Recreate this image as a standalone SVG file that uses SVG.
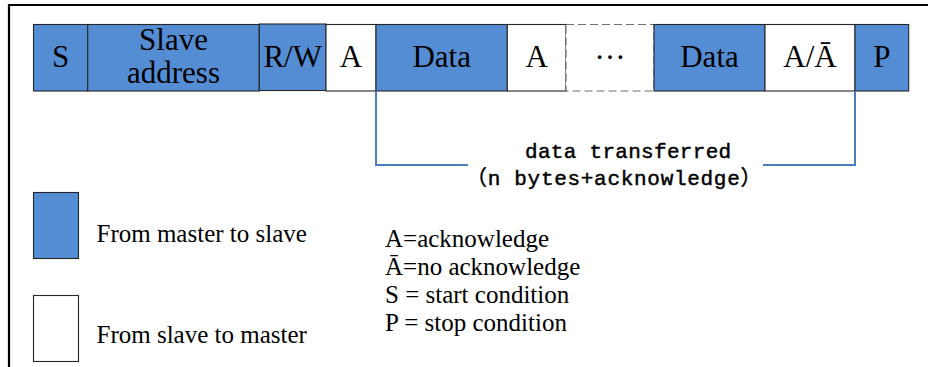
<svg xmlns="http://www.w3.org/2000/svg" width="928" height="367" viewBox="0 0 928 367">
<style>
.m{fill:#548dd4;stroke:#262626;stroke-width:1.1}
.s{fill:#ffffff;stroke:#262626;stroke-width:1.1}
.d{fill:#ffffff;stroke:#6f6f6f;stroke-width:1.2;stroke-dasharray:8 4}
.t{font-family:"Liberation Serif","Times New Roman",serif;font-size:31px;fill:#000;text-anchor:middle}
.l{font-family:"Liberation Serif","Times New Roman",serif;font-size:25px;fill:#000}
.mono{font-family:"Liberation Mono","Noto Sans CJK SC",monospace;font-size:21px;fill:#000;stroke:#000;stroke-width:0.45}
.br{fill:none;stroke:#4a7ebb;stroke-width:2}
</style>
<rect width="928" height="367" fill="#ffffff"/>
<path d="M9,367 V5 H928" fill="none" stroke="#000" stroke-width="2.2"/>
<g id="node-s"><rect class="m" x="33.5" y="24.5" width="54.2" height="66.5"/><text class="t" x="60.6" y="67">S</text></g>
<g id="node-slave-address"><rect class="m" x="87.7" y="24.5" width="171.6" height="66.5"/><text class="t" x="173.5" y="50">Slave</text><text class="t" x="173.5" y="83">address</text></g>
<g id="node-rw"><rect class="m" x="259.3" y="24" width="66.7" height="66.5"/><text class="t" x="292.7" y="67">R/W</text></g>
<g id="node-a1"><rect class="s" x="326" y="24.5" width="50" height="66.5"/><text class="t" x="351" y="67">A</text></g>
<g id="node-data1"><rect class="m" x="376" y="24.5" width="131.3" height="66.5"/><text class="t" x="441.7" y="67">Data</text></g>
<g id="node-a2"><rect class="s" x="507.3" y="24.5" width="58.7" height="66.5"/><text class="t" x="536.7" y="67">A</text></g>
<g id="node-ellipsis"><rect class="d" x="566" y="24.5" width="88" height="66.5"/><text class="t" x="610" y="59">…</text></g>
<g id="node-data2"><rect class="m" x="654" y="24.5" width="111" height="66.5"/><text class="t" x="709.5" y="67">Data</text></g>
<g id="node-a-nack"><rect class="s" x="765" y="24.5" width="90" height="66.5"/><text class="t" x="810" y="67">A/Ā</text></g>
<g id="node-p"><rect class="m" x="855" y="24.5" width="53.7" height="66.5"/><text class="t" x="881.8" y="67">P</text></g>
<g id="connectors">
<path class="br" d="M376,91 V165 H468 M763,165 H855 V91"/>
</g>
<g id="label-data">
<text class="mono" x="525" y="158" letter-spacing="0.3">data transferred</text>
<text class="mono" x="466" y="185" letter-spacing="0.7">（n bytes+acknowledge）</text>
</g>
<g id="legend-master"><rect class="m" x="33.5" y="192.5" width="45" height="66"/><text class="l" x="96.5" y="241.5">From master to slave</text></g>
<g id="legend-slave"><rect class="s" x="33.5" y="295.5" width="45" height="66"/><text class="l" x="96.5" y="343">From slave to master</text></g>
<g id="abbrev">
<text class="l" x="385" y="247">A=acknowledge</text>
<text class="l" x="385" y="275">Ā=no acknowledge</text>
<text class="l" x="385" y="303">S = start condition</text>
<text class="l" x="385" y="330.5">P = stop condition</text>
</g>
</svg>
